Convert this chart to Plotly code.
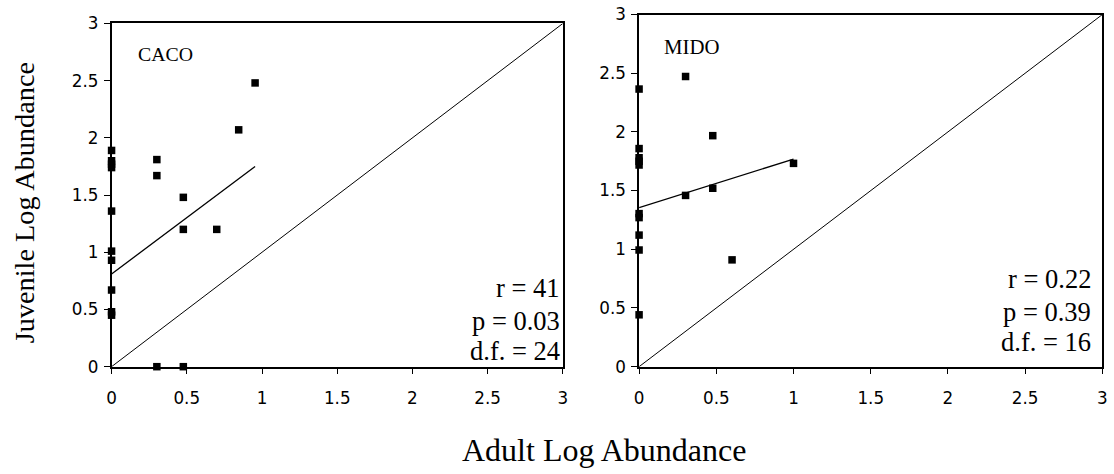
import plotly.graph_objects as go

W, H = 1114, 474

# ---- data ----
caco_x = [0, 0, 0, 0, 0, 0, 0, 0, 0, 0,
          0.301, 0.301, 0.477, 0.477, 0.699, 0.845, 0.954, 0.301, 0.477]
caco_y = [1.89, 1.80, 1.77, 1.74, 1.36, 1.01, 0.93, 0.67, 0.48, 0.45,
          1.81, 1.67, 1.48, 1.20, 1.20, 2.07, 2.48, 0.0, 0.0]
caco_fit_x = [0, 0.954]
caco_fit_y = [0.81, 1.75]

mido_x = [0, 0, 0, 0, 0, 0, 0, 0, 0, 0,
          0.301, 0.301, 0.477, 0.477, 0.602, 1.0]
mido_y = [2.365, 1.858, 1.78, 1.75, 1.718, 1.304, 1.27, 1.121, 0.994, 0.442,
          2.472, 1.459, 1.968, 1.52, 0.91, 1.732]
mido_fit_x = [0, 1.0]
mido_fit_y = [1.355, 1.768]

diag = [0, 3]
tick_vals = [0, 0.5, 1, 1.5, 2, 2.5, 3]
tick_text = ["0", "0.5", "1", "1.5", "2", "2.5", "3"]

caco_stats = ["r = 41", "p = 0.03", "d.f. = 24"]
mido_stats = ["r = 0.22", "p = 0.39", "d.f. = 16"]

# the captured page is a little larger than the figure and gets fitted back,
# so target positions are mapped through that fit
SX, OFFX = 0.9925, 4.0
SY, OFFY = 0.9674, 8.0


def px(x):
    return (x / SX - OFFX) / W


def py(y):
    return 1 - (y / SY - OFFY) / H


fig = go.Figure()

mk = dict(symbol="square", size=7.5, color="black")
for xs, ys, fx, fy, xa, ya in [
    (caco_x, caco_y, caco_fit_x, caco_fit_y, "x", "y"),
    (mido_x, mido_y, mido_fit_x, mido_fit_y, "x2", "y2"),
]:
    fig.add_trace(go.Scatter(x=diag, y=diag, mode="lines", line=dict(color="black", width=1),
                             xaxis=xa, yaxis=ya, showlegend=False, hoverinfo="skip"))
    fig.add_trace(go.Scatter(x=fx, y=fy, mode="lines", line=dict(color="black", width=1.3),
                             xaxis=xa, yaxis=ya, showlegend=False, hoverinfo="skip"))
    fig.add_trace(go.Scatter(x=xs, y=ys, mode="markers", marker=mk, cliponaxis=False,
                             xaxis=xa, yaxis=ya, showlegend=False))

tickfont = dict(family="DejaVu Sans", size=16.8, color="black")
ax_common = dict(range=[0, 3], tickvals=tick_vals, ticktext=tick_text, showgrid=False,
                 zeroline=False, showline=True, linecolor="black", linewidth=1.5,
                 mirror=True, ticks="outside", ticklen=6, tickcolor="black", tickwidth=1,
                 tickfont=tickfont, fixedrange=True)

fig.update_layout(
    width=W, height=H,
    margin=dict(l=0, r=0, t=0, b=0),
    paper_bgcolor="white", plot_bgcolor="white",
    xaxis=dict(domain=[px(110.7), px(562.7)], anchor="y", ticklabelstandoff=9, **ax_common),
    yaxis=dict(domain=[py(368), py(21.3)], anchor="x", ticklabelstandoff=2, **ax_common),
    xaxis2=dict(domain=[px(639), px(1103)], anchor="y2", ticklabelstandoff=9, **ax_common),
    yaxis2=dict(domain=[py(368), py(12.3)], anchor="x2", ticklabelstandoff=2, **ax_common),
)

serif = "Liberation Serif"
ann = []
ann.append(dict(text="CACO", x=px(135), y=py(52), xanchor="left", yanchor="middle",
                font=dict(family=serif, size=19.8, color="black")))
ann.append(dict(text="MIDO", x=px(661.7), y=py(45), xanchor="left", yanchor="middle",
                font=dict(family=serif, size=20.8, color="black")))
for t, yc in zip(caco_stats, [289, 322, 352]):
    ann.append(dict(text=t, x=px(562), y=py(yc), xanchor="right", yanchor="middle",
                    font=dict(family=serif, size=26.5, color="black")))
for t, yc in zip(mido_stats, [279, 313, 343]):
    ann.append(dict(text=t, x=px(1094), y=py(yc), xanchor="right", yanchor="middle",
                    font=dict(family=serif, size=26.5, color="black")))
ann.append(dict(text="Juvenile Log Abundance", x=px(23), y=py(203), textangle=-90,
                xanchor="center", yanchor="middle",
                font=dict(family=serif, size=28.3, color="black")))
ann.append(dict(text="Adult Log Abundance", x=px(604), y=py(452),
                xanchor="center", yanchor="middle",
                font=dict(family=serif, size=32, color="black")))
for a in ann:
    a.update(xref="paper", yref="paper", showarrow=False)
fig.update_layout(annotations=ann)

fig.write_html("out.html")
